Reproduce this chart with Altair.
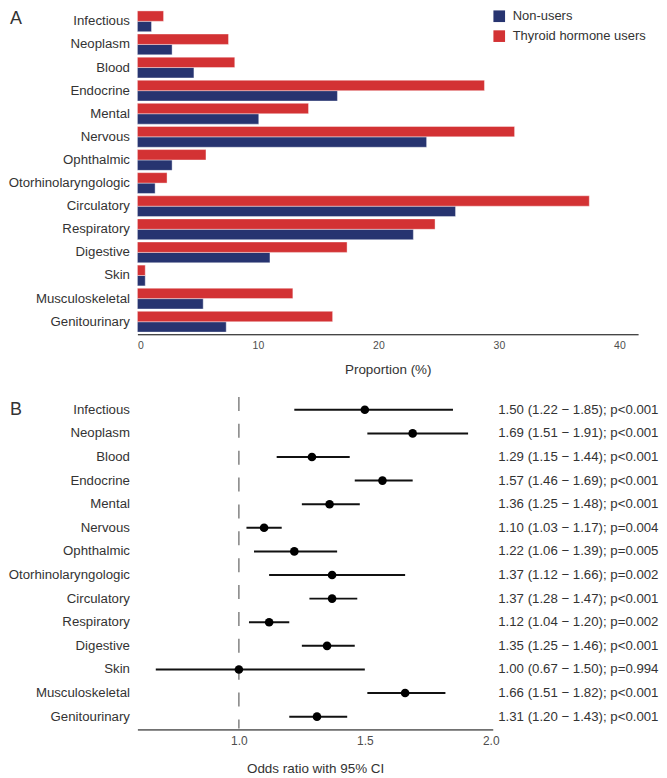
import altair as alt
import pandas as pd

categories = ["Infectious", "Neoplasm", "Blood", "Endocrine", "Mental", "Nervous",
              "Ophthalmic", "Otorhinolaryngologic", "Circulatory", "Respiratory",
              "Digestive", "Skin", "Musculoskeletal", "Genitourinary"]
groups = ["Non-users", "Thyroid hormone users"]
non_users = [1.17, 2.88, 4.69, 16.6, 10.07, 24.0, 2.88, 1.47, 26.4, 22.9, 11.0, 0.65, 5.46, 7.37]
th_users = [2.17, 7.56, 8.08, 28.8, 14.2, 31.3, 5.69, 2.46, 37.5, 24.7, 17.4, 0.65, 12.9, 16.2]

odds = [1.50, 1.69, 1.29, 1.57, 1.36, 1.10, 1.22, 1.37, 1.37, 1.12, 1.35, 1.00, 1.66, 1.31]
ci_low = [1.22, 1.51, 1.15, 1.46, 1.25, 1.03, 1.06, 1.12, 1.28, 1.04, 1.25, 0.67, 1.51, 1.20]
ci_high = [1.85, 1.91, 1.44, 1.69, 1.48, 1.17, 1.39, 1.66, 1.47, 1.20, 1.46, 1.50, 1.82, 1.43]
p_text = ["p<0.001", "p<0.001", "p<0.001", "p<0.001", "p<0.001", "p=0.004", "p=0.005",
          "p=0.002", "p<0.001", "p=0.002", "p<0.001", "p=0.994", "p<0.001", "p<0.001"]

RED = "#D33234"
BLUE = "#273470"
TXT = "#333333"
FONT = "Liberation Sans"

dfA = pd.DataFrame({
    "category": categories * 2,
    "group": [groups[0]] * len(categories) + [groups[1]] * len(categories),
    "value": non_users + th_users,
})

dfB = pd.DataFrame({
    "category": categories,
    "odds": odds,
    "lo": ci_low,
    "hi": ci_high,
})
dfB["label"] = [f"{o:.2f} ({l:.2f} \u2212 {h:.2f}); {p}" for o, l, h, p in zip(odds, ci_low, ci_high, p_text)]

y_axis = alt.Axis(title=None, ticks=False, tickSize=0, domain=False, labelFontSize=13.3,
                  labelColor=TXT, labelPadding=8, labelFont=FONT)

bars = alt.Chart(dfA).mark_bar(stroke="white", strokeWidth=0.4).encode(
    x=alt.X("value:Q", scale=alt.Scale(domain=[0, 41.55], nice=False, zero=True),
            axis=alt.Axis(values=[0, 10, 20, 30, 40], title="Proportion (%)", grid=False,
                          ticks=False, tickSize=0, domainColor="black", domainWidth=1,
                          labelFontSize=10.5, labelColor="#4d4d4d", labelPadding=6,
                          titleFontSize=13.5, titleFontWeight="normal", titleColor=TXT,
                          titlePadding=12, offset=1)),
    y=alt.Y("category:N", sort=categories,
            scale=alt.Scale(paddingInner=0.1, paddingOuter=0.05), axis=y_axis),
    yOffset=alt.YOffset("group:N", sort=["Thyroid hormone users", "Non-users"],
                        scale=alt.Scale(paddingInner=0, paddingOuter=0)),
    color=alt.Color("group:N", scale=alt.Scale(domain=groups, range=[BLUE, RED]),
                    legend=alt.Legend(title=None, orient="none", legendX=357, legendY=0,
                                      symbolType="square", symbolSize=137, symbolStrokeWidth=0,
                                      labelFontSize=13, labelColor=TXT, rowPadding=6,
                                      padding=0, labelOffset=7)),
)

letterA = alt.Chart(pd.DataFrame({"t": ["A"]})).mark_text(
    align="left", baseline="middle", fontSize=18, color=TXT, font=FONT
).encode(text="t:N", x=alt.value(-128), y=alt.value(9))

chartA = alt.layer(bars, letterA).properties(width=503, height=325)

or_scale = alt.Scale(domain=[0.597, 2.008], nice=False, zero=False)
or_axis = alt.Axis(values=[1.0, 1.5, 2.0], format=".1f", title="Odds ratio with 95% CI",
                   grid=False, ticks=False, tickSize=0, domainColor="black",
                   labelFontSize=12, labelColor="#4d4d4d", labelPadding=6,
                   titleFontSize=13.5, titleFontWeight="normal", titleColor=TXT,
                   titlePadding=15, offset=1)
y_b = alt.Y("category:N", sort=categories, axis=y_axis)

base = alt.Chart(dfB)
ref = base.mark_rule(color="#6e6e6e", strokeWidth=1.3, strokeDash=[14, 13]).encode(
    x=alt.datum(1.0, scale=or_scale), y=alt.value(-1), y2=alt.value(332)
).transform_filter("datum.category == 'Infectious'")
ci = base.mark_rule(color="#111111", strokeWidth=2).encode(
    x=alt.X("lo:Q", scale=or_scale, axis=or_axis), x2="hi:Q", y=y_b)
pts = base.mark_circle(color="#000000", size=75, opacity=1).encode(
    x=alt.X("odds:Q", scale=or_scale, axis=or_axis), y=y_b)
lbl = base.mark_text(align="left", baseline="middle", fontSize=13.3, color=TXT, font=FONT).encode(
    x=alt.value(362.5), y=y_b, text="label:N")
letterB = alt.Chart(pd.DataFrame({"t": ["B"]})).mark_text(
    align="left", baseline="middle", fontSize=18, color=TXT, font=FONT
).encode(text="t:N", x=alt.value(-128), y=alt.value(12))

chartB = alt.layer(ref, ci, pts, lbl, letterB).properties(width=357, height=332)

chart = (
    alt.vconcat(chartA, chartB, spacing=20)
    .properties(padding=0)
    .configure(font=FONT)
    .configure_view(stroke=None)
)

chart.save("out.html", embed_options={"renderer": "svg", "actions": False})
